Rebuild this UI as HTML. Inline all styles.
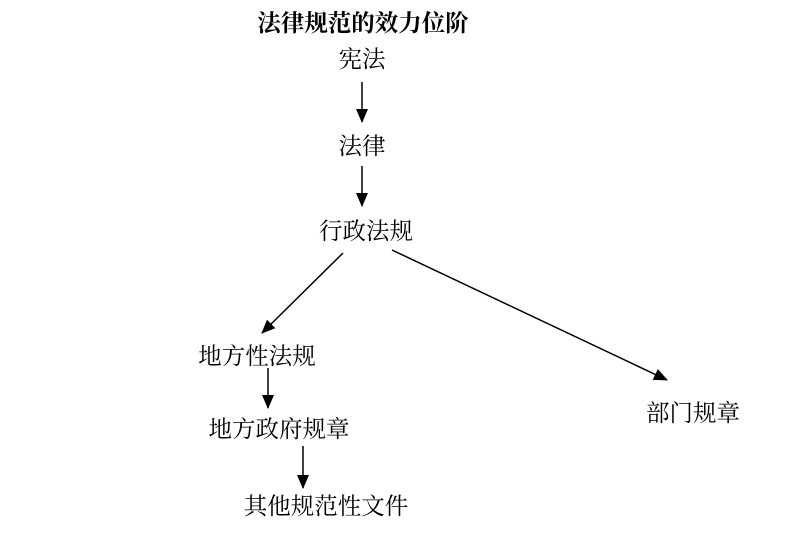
<!DOCTYPE html>
<html><head><meta charset="utf-8"><style>
html,body{margin:0;padding:0;background:#fff;}
svg{display:block}
text{font-family:"Liberation Serif","Noto Serif CJK SC",serif;fill:#000;}
</style></head><body>
<svg width="800" height="536" viewBox="0 0 800 536" xmlns="http://www.w3.org/2000/svg">
<defs>
<marker id="b" markerWidth="14" markerHeight="12" refX="13" refY="6" orient="auto" markerUnits="userSpaceOnUse">
<path d="M0,0 L14,6 L0,12 z" fill="#000"/></marker></defs>
<text x="363" y="31" font-size="23.5" font-weight="bold" text-anchor="middle">法律规范的效力位阶</text>
<text x="362" y="67" font-size="23.5" text-anchor="middle">宪法</text>
<line x1="362" y1="82" x2="362" y2="122" stroke="#000" stroke-width="1.5" marker-end="url(#b)"/>
<text x="362" y="154" font-size="23.5" text-anchor="middle">法律</text>
<line x1="362" y1="166" x2="362" y2="206" stroke="#000" stroke-width="1.5" marker-end="url(#b)"/>
<text x="366" y="239" font-size="23.5" text-anchor="middle">行政法规</text>
<line x1="343" y1="253" x2="262" y2="333" stroke="#000" stroke-width="1.5" marker-end="url(#b)"/>
<line x1="392" y1="250" x2="667" y2="380" stroke="#000" stroke-width="1.5" marker-end="url(#b)"/>
<text x="257" y="364" font-size="23.5" text-anchor="middle">地方性法规</text>
<line x1="268" y1="368" x2="268" y2="408" stroke="#000" stroke-width="1.5" marker-end="url(#b)"/>
<text x="279" y="437" font-size="23.5" text-anchor="middle">地方政府规章</text>
<line x1="303" y1="446" x2="303" y2="488" stroke="#000" stroke-width="1.5" marker-end="url(#b)"/>
<text x="326" y="514" font-size="23.5" text-anchor="middle">其他规范性文件</text>
<text x="693" y="421" font-size="23.5" text-anchor="middle">部门规章</text>
</svg>
</body></html>
